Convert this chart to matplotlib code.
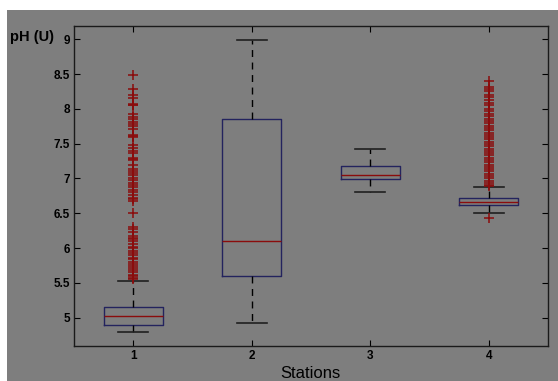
import matplotlib
matplotlib.use("Agg")
import matplotlib.pyplot as plt
from matplotlib.patches import Rectangle

stations = [1, 2, 3, 4]
tick_labels = ["1", "2", "3", "4"]
y_ticks = [5, 5.5, 6, 6.5, 7, 7.5, 8, 8.5, 9]
y_tick_labels = ["5", "5.5", "6", "6.5", "7", "7.5", "8", "8.5", "9"]

whisker_low = [4.80, 4.93, 6.80, 6.51]
q1 = [4.90, 5.60, 6.99, 6.62]
median = [5.03, 6.10, 7.055, 6.667]
q3 = [5.16, 7.855, 7.18, 6.724]
whisker_high = [5.53, 8.99, 7.42, 6.87]

outliers_1 = [8.48, 8.28, 8.2, 8.15, 8.07, 8.06, 8.05, 7.92, 7.88, 7.85, 7.81, 7.78,
              7.75, 7.71, 7.63, 7.61, 7.6, 7.48, 7.44, 7.4, 7.36, 7.3, 7.28, 7.27,
              7.2, 7.13, 7.11, 7.08, 7.05, 7.0, 6.98, 6.94, 6.9, 6.87, 6.83, 6.8,
              6.76, 6.72, 6.7, 6.67, 6.51, 6.3, 6.27, 6.23, 6.18, 6.15, 6.13, 6.1,
              6.06, 6.02, 6.0, 5.96, 5.93, 5.9, 5.86, 5.84, 5.8, 5.77, 5.74, 5.71,
              5.68, 5.65, 5.62, 5.6, 5.57, 5.55]
outliers_2 = []
outliers_3 = []
outliers_4 = [8.4, 8.32, 8.28, 8.25, 8.2, 8.17, 8.12, 8.08, 8.05, 8.0, 7.97, 7.93,
              7.9, 7.86, 7.83, 7.8, 7.76, 7.73, 7.7, 7.66, 7.63, 7.6, 7.56, 7.53,
              7.5, 7.47, 7.43, 7.4, 7.37, 7.33, 7.3, 7.27, 7.23, 7.2, 7.17, 7.13,
              7.1, 7.07, 7.03, 7.0, 6.97, 6.94, 6.91, 6.89, 6.43]
outliers = [outliers_1, outliers_2, outliers_3, outliers_4]

GRAY = "#7e7e7e"
BOXC = "#23235e"
REDC = "#8a0c0c"

fig = plt.figure(figsize=(5.58, 3.81), dpi=100, facecolor="white")
fig.patches.append(Rectangle((7 / 558, 0), 1, (381 - 10) / 381, transform=fig.transFigure,
                             facecolor=GRAY, edgecolor="none", zorder=-10))
ax = fig.add_axes([74 / 558, 1 - 346 / 381, (548 - 74) / 558, (346 - 26) / 381])
ax.set_facecolor(GRAY)

stats = []
for i in range(len(stations)):
    stats.append(dict(whislo=whisker_low[i], q1=q1[i], med=median[i], q3=q3[i],
                      whishi=whisker_high[i], fliers=outliers[i]))

ax.bxp(stats, positions=stations, widths=0.5, showfliers=True,
       boxprops=dict(color=BOXC, linewidth=1.0),
       medianprops=dict(color=REDC, linewidth=1.0),
       whiskerprops=dict(color="black", linestyle=(0, (5, 4)), linewidth=1.0),
       capprops=dict(color="#202020", linewidth=1.2),
       flierprops=dict(marker="+", markeredgecolor=REDC, markersize=7, markeredgewidth=1.1,
                       linestyle="none"),
       capwidths=0.25)

ax.set_xlim(0.5, 4.5)
ax.set_ylim(4.593, 9.19)
ax.set_xticks(stations)
ax.set_xticklabels(tick_labels)
ax.set_yticks(y_ticks)
ax.set_yticklabels(y_tick_labels)
ax.tick_params(direction="in", length=4, width=0.8, top=True, right=True,
               labelsize=8.5, pad=3, colors="black")
for lab in ax.get_xticklabels() + ax.get_yticklabels():
    lab.set_fontfamily("Liberation Sans")
    lab.set_fontweight("bold")
for sp in ax.spines.values():
    sp.set_color("#1a1a1a")
    sp.set_linewidth(1.0)

fig.text(10 / 558, 1 - 37 / 381, "pH (U)", fontsize=10.5, fontweight="bold",
         family="Liberation Sans", ha="left", va="center", color="black")
fig.text(310 / 558, 1 - 374 / 381, "Stations", fontsize=12, family="Liberation Sans",
         ha="center", va="center", color="black")

fig.savefig("out.png", dpi=100, facecolor="white")
